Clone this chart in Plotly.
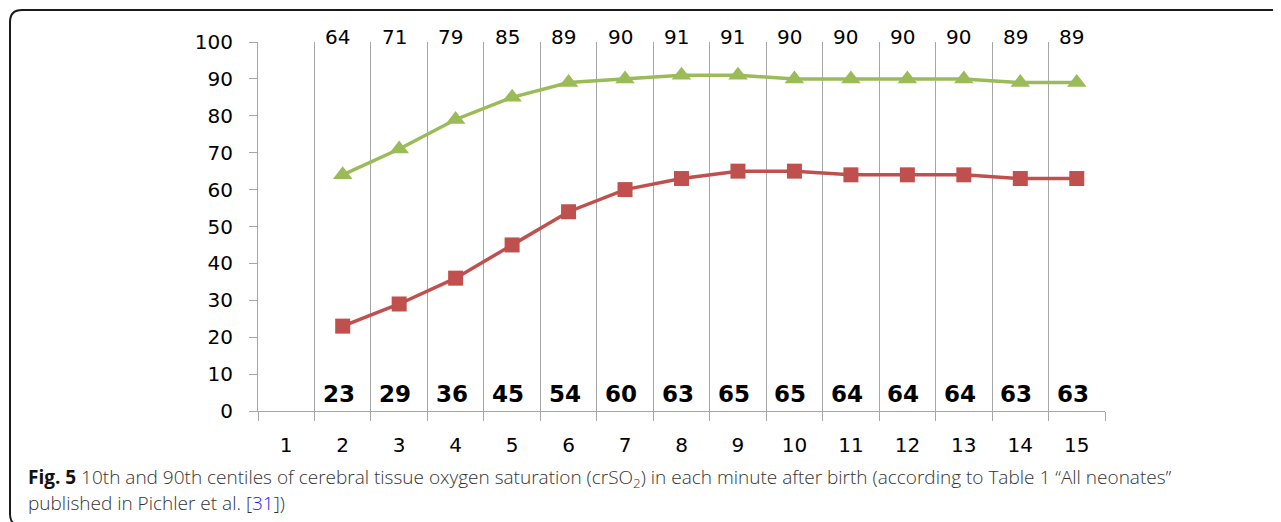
import plotly.graph_objects as go

minutes_all = [str(i) for i in range(1, 16)]
minutes = [str(i) for i in range(2, 16)]
p90 = [64, 71, 79, 85, 89, 90, 91, 91, 90, 90, 90, 90, 89, 89]
p10 = [23, 29, 36, 45, 54, 60, 63, 65, 65, 64, 64, 64, 63, 63]
y_ticks = list(range(0, 101, 10))

OFF = 8  # page body margin
W, H = 1281 - OFF, 522 - OFF
# plot area in screen pixels: x 258..1105, y 42..411
L = 258 - OFF
R = W - (1105 - OFF)
T = 42 - OFF
B = H - (411 - OFF)
PW, PH = W - L - R, H - T - B

def px(x):
    return (x - OFF - L) / PW

def py(y):
    return (H - B - (y - OFF)) / PH

GREEN = "#9BBB59"
RED = "#C0504D"
GRAY = "#A6A6A6"
FONT = "DejaVu Sans"

fig = go.Figure()
fig.add_trace(go.Scatter(
    x=minutes, y=p90, mode="lines+markers",
    line=dict(color=GREEN, width=3.5),
    marker=dict(symbol="triangle-up", size=17, color=GREEN),
    showlegend=False, hoverinfo="skip"))
fig.add_trace(go.Scatter(
    x=minutes, y=p10, mode="lines+markers",
    line=dict(color=RED, width=3.5),
    marker=dict(symbol="square", size=15, color=RED),
    showlegend=False, hoverinfo="skip"))

annotations = []
for m, v in zip(minutes, p90):
    annotations.append(dict(
        x=minutes_all.index(m), xref="x", y=py(37), yref="paper", text=str(v),
        showarrow=False, xanchor="center", yanchor="middle", xshift=-5,
        font=dict(family=FONT, size=20, color="#000000")))
for m, v in zip(minutes, p10):
    annotations.append(dict(
        x=minutes_all.index(m), xref="x", y=py(394), yref="paper", text=f"<b>{v}</b>",
        showarrow=False, xanchor="center", yanchor="middle", xshift=-4,
        font=dict(family=FONT, size=23, color="#000000")))

cap_font = dict(family="Open Sans", size=19, color="#333333", weight=300)
annotations.append(dict(
    x=px(26), xref="paper", y=py(478), yref="paper", xanchor="left", yanchor="middle",
    showarrow=False, align="left", font=cap_font,
    text="<b><span style='color:#111111'>Fig. 5</span></b> 10th and 90th centiles of cerebral tissue oxygen saturation "
         "(crSO<sub>2</sub>) in each minute after birth (according to Table 1 \u201cAll neonates\u201d"))
annotations.append(dict(
    x=px(26), xref="paper", y=py(503), yref="paper", xanchor="left", yanchor="middle",
    showarrow=False, align="left", font=cap_font,
    text="published in Pichler et al. [<span style='color:#1a1aff'>31</span>])"))

# rounded border frame (bottom edge lies just below the visible area)
r = 12
x0, x1, y0, y1 = px(10), px(1300), py(10), py(526)
rx, ry = r / PW, r / PH
path = (f"M {x0},{y1 + ry} L {x0},{y0 - ry} Q {x0},{y0} {x0 + rx},{y0} "
        f"L {x1},{y0} M {x0},{y1 + ry} Q {x0},{y1} {x0 + rx},{y1} L {x1},{y1}")
shapes = [dict(type="path", xref="paper", yref="paper", path=path,
               line=dict(color="#1a1a1a", width=2))]

fig.update_layout(
    width=W, height=H,
    margin=dict(l=L, r=R, t=T, b=B, pad=0),
    paper_bgcolor="white", plot_bgcolor="white",
    annotations=annotations, shapes=shapes,
    showlegend=False,
    xaxis=dict(
        type="category", categoryorder="array", categoryarray=minutes_all,
        tickvals=minutes_all, range=[-0.5, 14.5],
        tickson="boundaries", ticks="outside", ticklen=9, tickcolor=GRAY, tickwidth=1,
        showgrid=True, gridcolor=GRAY, gridwidth=1,
        showline=True, linecolor=GRAY, linewidth=1,
        zeroline=False, ticklabelstandoff=16,
        tickfont=dict(family=FONT, size=20, color="#000000")),
    yaxis=dict(
        range=[0, 100], tickvals=y_ticks, ticks="outside", ticklen=8,
        tickcolor=GRAY, tickwidth=1, showgrid=False, zeroline=False,
        showline=True, linecolor=GRAY, linewidth=1, ticklabelstandoff=12,
        tickfont=dict(family=FONT, size=20, color="#000000")),
)

fig.write_html("out.html")
